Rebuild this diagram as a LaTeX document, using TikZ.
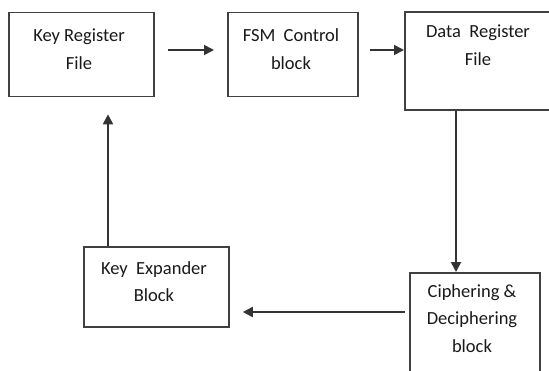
\documentclass[tikz,border=0pt]{standalone}
\usepackage{fontspec}
\setmainfont{Carlito}
\usetikzlibrary{arrows.meta,positioning}
\begin{document}
\begin{tikzpicture}[x=1pt,y=-1pt,
  box/.style={draw=black!75, line width=1.8pt, anchor=north west, inner sep=0pt, align=center},
  txt/.style={text=black!90, font=\fontsize{18.5}{27.5}\selectfont, align=center, inner sep=0pt},
  arr/.style={draw=black!80, line width=1.8pt, -{Triangle[length=10pt,width=10pt]}}]
\useasboundingbox (0,0) rectangle (549,370);
\node[box, minimum width=145pt, minimum height=84pt] (kr) at (8,11.5) {};
\node[txt] (krt) at (79,49) {Key Register\\File};
\node[box, minimum width=130pt, minimum height=84pt] (fsm) at (227,11.5) {};
\node[txt] (fsmt) at (291,49) {FSM\ \ Control\\block};
\node[box, minimum width=146pt, minimum height=98pt] (dr) at (404,11) {};
\node[txt] (drt) at (478,45) {Data\ \ Register\\File};
\node[box, minimum width=145pt, minimum height=80pt] (ke) at (83,246) {};
\node[txt] (ket) at (154,281.5) {Key\ \ Expander\\Block};
\node[box, minimum width=130pt, minimum height=106pt] (cd) at (409,272) {};
\node[txt] (cdt) at (472,318.5) {Ciphering \&\\Deciphering\\block};
\coordinate (kry) at (0,50);
\coordinate (dx) at (456,0);
\coordinate (lx) at (108,0);
\coordinate (by) at (0,312);
\draw[arr, shorten <=13pt, shorten >=13pt] (kr.east |- kry) -- (fsm.west |- kry);
\draw[arr, shorten <=11pt] (fsm.east |- kry) -- (dr.west |- kry);
\draw[arr] (dr.south -| dx) -- (cd.north -| dx);
\draw[arr, shorten <=4pt, shorten >=13pt] (cd.west |- by) -- (ke.east |- by);
\draw[arr, shorten >=17pt] (ke.north -| lx) -- (kr.south -| lx);
\end{tikzpicture}
\end{document}
